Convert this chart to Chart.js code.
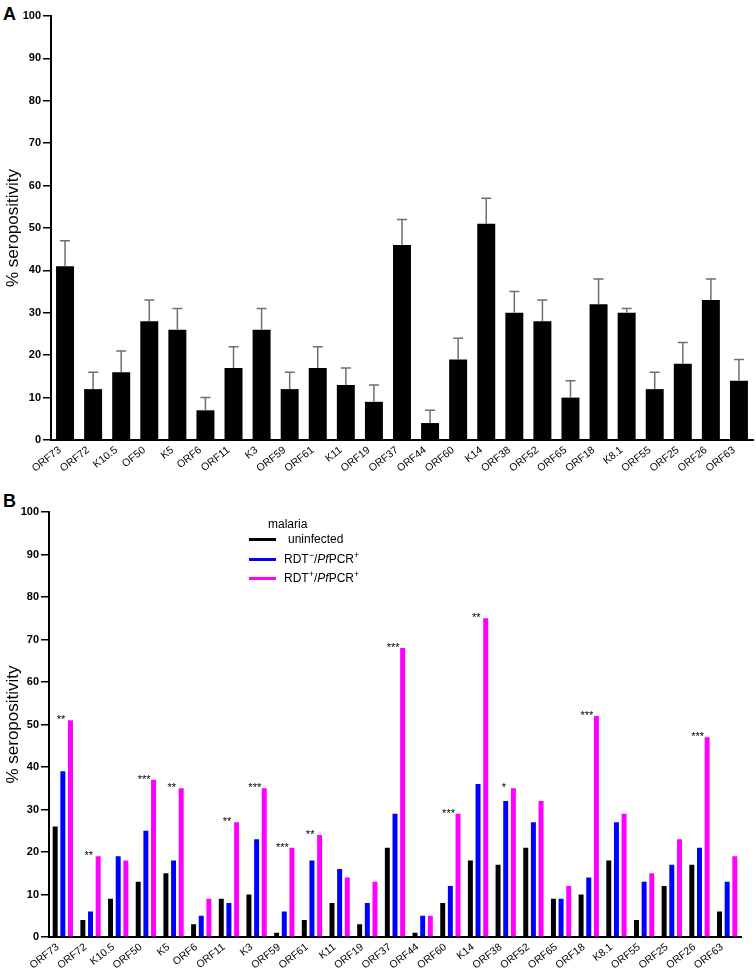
<!DOCTYPE html>
<html>
<head>
<meta charset="utf-8">
<script src="https://cdn.jsdelivr.net/npm/chart.js@4.4.1/dist/chart.umd.min.js"></script>
<style>
  body { margin: 0; background: #fff; font-family: "Liberation Sans", Arial, sans-serif; color: #000; }
  .wrap { position: relative; width: 756px; height: 969px; overflow: hidden; }
  canvas { position: absolute; left: 0; }
  #chartA { top: 0; }
  #chartB { top: 470px; }
  .panel { position: absolute; left: 3px; font-weight: bold; font-size: 18px; line-height: 18px; }
  .leg { position: absolute; font-size: 12px; line-height: 14px; white-space: nowrap; }
  .leg sup { font-size: 9px; line-height: 0; vertical-align: 5px; }
  .swatch { position: absolute; left: 249px; width: 27px; height: 3px; }
</style>
</head>
<body>
<div class="wrap">
  <div class="panel" style="top:5px">A</div>
  <div class="panel" style="top:492px">B</div>
  <canvas id="chartA" width="756" height="490"></canvas>
  <canvas id="chartB" width="756" height="499"></canvas>

  <div class="leg" style="left:268px; top:517px">malaria</div>
  <div class="swatch" style="top:538px; background:#000"></div>
  <div class="leg" style="left:288px; top:532px">uninfected</div>
  <div class="swatch" style="top:558px; background:#0000ff"></div>
  <div class="leg" style="left:284px; top:552px">RDT<sup>&minus;</sup>/<i>Pf</i>PCR<sup>+</sup></div>
  <div class="swatch" style="top:577px; background:#ff00ff"></div>
  <div class="leg" style="left:284px; top:571px">RDT<sup>+</sup>/<i>Pf</i>PCR<sup>+</sup></div>
</div>

<script>
// antigens, panel A (all samples) and panel B (by malaria status)
const antigensA = ["ORF73", "ORF72", "K10.5", "OF50", "K5", "ORF6", "ORF11", "K3", "ORF59", "ORF61", "K11", "ORF19", "ORF37",
  "ORF44", "ORF60", "K14", "ORF38", "ORF52", "ORF65", "ORF18", "K8.1", "ORF55", "ORF25", "ORF26", "ORF63"];
const antigensB = ["ORF73", "ORF72", "K10.5", "ORF50", "K5", "ORF6", "ORF11", "K3", "ORF59", "ORF61", "K11", "ORF19", "ORF37",
  "ORF44", "ORF60", "K14", "ORF38", "ORF52", "ORF65", "ORF18", "K8.1", "ORF55", "ORF25", "ORF26", "ORF63"];

const seroAll = [41, 12, 16, 28, 26, 7, 17, 26, 12, 17, 13, 9, 46, 4, 19, 51, 30, 28, 10, 32, 30, 12, 18, 33, 14];
const seroUpper = [47, 16, 21, 33, 31, 10, 22, 31, 16, 22, 17, 13, 52, 7, 24, 57, 35, 33, 14, 38, 31, 16, 23, 38, 19];

const uninfected = [26, 4, 9, 13, 15, 3, 9, 10, 1, 4, 8, 3, 21, 1, 8, 18, 17, 21, 9, 10, 18, 4, 12, 17, 6];
const rdtNeg = [39, 6, 19, 25, 18, 5, 8, 23, 6, 18, 16, 8, 29, 5, 12, 36, 32, 27, 9, 14, 27, 13, 17, 21, 13];
const rdtPos = [51, 19, 18, 37, 35, 9, 27, 35, 21, 24, 14, 13, 68, 5, 29, 75, 35, 32, 12, 52, 29, 15, 23, 47, 19];
const significance = ["**", "**", "", "***", "**", "", "**", "***", "***", "**", "", "", "***",
  "", "***", "**", "*", "", "", "***", "", "", "", "***", ""];

const yTicks = [0, 10, 20, 30, 40, 50, 60, 70, 80, 90, 100];

const FONT = '"Liberation Sans", Arial, sans-serif';

// upper error bars for panel A
const errorBars = {
  id: "errorBars",
  afterDatasetsDraw(chart) {
    const ctx = chart.ctx;
    const y = chart.scales.y;
    ctx.save();
    ctx.strokeStyle = "#6f6f6f";
    ctx.lineWidth = 1.5;
    chart.getDatasetMeta(0).data.forEach(function (bar, i) {
      const top = y.getPixelForValue(seroUpper[i]);
      ctx.beginPath();
      ctx.moveTo(bar.x, bar.y);
      ctx.lineTo(bar.x, top);
      ctx.moveTo(bar.x - 5, top);
      ctx.lineTo(bar.x + 5, top);
      ctx.stroke();
    });
    ctx.restore();
  }
};

// significance stars for panel B
const stars = {
  id: "stars",
  afterDatasetsDraw(chart) {
    const ctx = chart.ctx;
    const y = chart.scales.y;
    const black = chart.getDatasetMeta(0).data;
    const blue = chart.getDatasetMeta(1).data;
    ctx.save();
    ctx.fillStyle = "#000";
    ctx.font = "11px " + FONT;
    ctx.textAlign = "center";
    ctx.textBaseline = "alphabetic";
    significance.forEach(function (s, i) {
      if (!s) return;
      const x = (black[i].x + blue[i].x) / 2 + 2;
      ctx.fillText(s, x, y.getPixelForValue(rdtPos[i]) + 3);
    });
    ctx.restore();
  }
};

function yAxis(width) {
  return {
    min: 0,
    max: 100,
    afterBuildTicks: function (scale) {
      scale.ticks = yTicks.map(function (v) { return { value: v }; });
    },
    ticks: { color: "#000", font: { family: FONT, size: 11, weight: "bold" }, padding: 2 },
    grid: { drawOnChartArea: false, drawTicks: true, tickLength: 8, color: "#000", lineWidth: 1.5 },
    border: { color: "#000", width: 2 },
    title: {
      display: true,
      text: "% seropositivity",
      color: "#000",
      font: { family: FONT, size: 17 },
      padding: { top: 3, bottom: 0 }
    },
    afterFit: function (scale) {
      scale.width = width;
      scale.paddingTop = 0;
      scale.paddingBottom = 0;
    }
  };
}

function xAxis(height) {
  return {
    grid: { display: false },
    border: { color: "#000", width: 2 },
    ticks: {
      color: "#000",
      font: { family: FONT, size: 10.5 },
      minRotation: 38,
      maxRotation: 38,
      autoSkip: false,
      labelOffset: -5,
      padding: -4
    },
    afterFit: function (scale) {
      scale.height = height;
      scale.paddingLeft = 0;
      scale.paddingRight = 0;
    }
  };
}

new Chart(document.getElementById("chartA"), {
  type: "bar",
  data: {
    labels: antigensA,
    datasets: [{
      label: "% seropositivity",
      data: seroAll,
      backgroundColor: "#000",
      borderWidth: 0,
      barPercentage: 0.64,
      categoryPercentage: 1
    }]
  },
  options: {
    responsive: false,
    animation: false,
    devicePixelRatio: 1,
    layout: { padding: { top: 16, right: 3, left: 0, bottom: 0 } },
    plugins: { legend: { display: false }, tooltip: { enabled: false } },
    scales: { x: xAxis(50), y: yAxis(51) }
  },
  plugins: [errorBars]
});

new Chart(document.getElementById("chartB"), {
  type: "bar",
  data: {
    labels: antigensB,
    datasets: [
      { label: "uninfected", data: uninfected, backgroundColor: "#000" },
      { label: "RDT-/PfPCR+", data: rdtNeg, backgroundColor: "#0000ff" },
      { label: "RDT+/PfPCR+", data: rdtPos, backgroundColor: "#ff00ff" }
    ]
  },
  options: {
    responsive: false,
    animation: false,
    devicePixelRatio: 1,
    datasets: { bar: { borderWidth: 0, barPercentage: 0.65, categoryPercentage: 0.83 } },
    layout: { padding: { top: 42, right: 15, left: 0, bottom: 0 } },
    plugins: { legend: { display: false }, tooltip: { enabled: false } },
    scales: { x: xAxis(32), y: yAxis(49) }
  },
  plugins: [stars]
});
</script>
</body>
</html>
